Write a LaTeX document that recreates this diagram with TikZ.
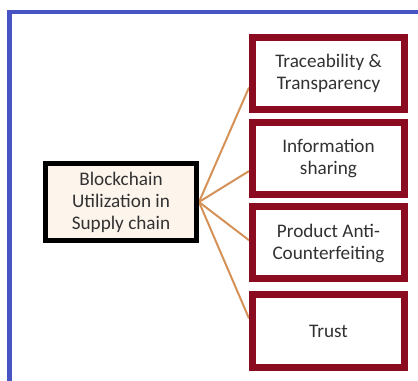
\documentclass[tikz,border=0pt]{standalone}
\usepackage{fontspec}
\setmainfont{Carlito}
\usetikzlibrary{backgrounds}
\usepackage{xcolor}
\newcommand{\XCore}{121}
\newcommand{\YCore}{202}
\newcommand{\XLeaf}{328.5}
\definecolor{frameBlue}{RGB}{72,84,196}
\definecolor{leafStroke}{RGB}{139,12,32}
\definecolor{coreFill}{RGB}{253,245,236}
\definecolor{wireColor}{RGB}{212,146,88}
\definecolor{textGray}{RGB}{50,50,50}

\begin{document}
\begin{tikzpicture}[
  x=0.75pt, y=-0.75pt,
  every node/.style={font=\fontsize{14.4}{16.5}\selectfont, text=textGray, align=center},
  core/.style={draw=black, line width=3.75pt, fill=coreFill, inner sep=0pt,
    minimum width=113.25pt, minimum height=57.75pt},
  leaf/.style={draw=leafStroke, line width=5.25pt, fill=white, inner sep=0pt,
    minimum width=114pt, minimum height=54pt},
  wire/.style={wireColor, line width=1.5pt}
]
\useasboundingbox (0,0) rectangle (418,381);

% Frame
\draw[frameBlue, line width=3.4pt] (9.5,381) -- (9.5,12) -- (418,12);

% Core
\node[core] (core) at (\XCore,\YCore) {Blockchain\\Utilization in\\Supply chain};

% Leaves and wires
\foreach \name/\y/\ang/\txt in {
    trace/73.5/190/{Traceability \&\\Transparency},
    info/158.5/189/{Information\\sharing},
    anti/243/178/{Product Anti-\\Counterfeiting},
    trust/331/171/{Trust}}{%
  \node[leaf] (\name) at (\XLeaf,\y) {\txt};
  \begin{pgfonlayer}{background}
    \draw[wire] (core.east) -- (\name.\ang);
  \end{pgfonlayer}
}

\end{tikzpicture}
\end{document}
